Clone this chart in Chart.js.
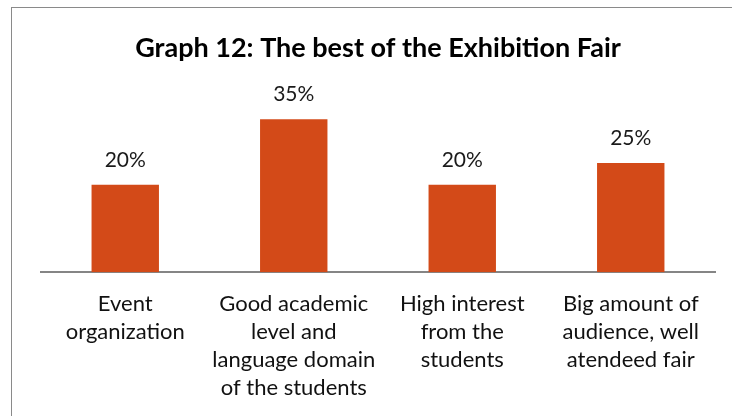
<!DOCTYPE html>
<html>
<head>
<meta charset="utf-8">
<script src="https://cdn.jsdelivr.net/npm/chart.js@4"></script>
<style>
  html, body { margin: 0; padding: 0; background: #fff; overflow: hidden; }
  #wrap { position: relative; width: 732px; height: 416px; }
  #frame { position: absolute; left: 11px; top: 7px; width: 800px; height: 500px; border: 1.5px solid #8a8a8a; box-sizing: border-box; }
  #chart { position: absolute; left: 0; top: 0; }
</style>
</head>
<body>
<div id="wrap">
  <div id="frame"></div>
  <canvas id="chart" width="732" height="416"></canvas>
</div>
<script>
let categories = [
    ['Event', 'organization'],
    ['Good academic', 'level and', 'language domain', 'of the students'],
    ['High interest', 'from the', 'students'],
    ['Big amount of', 'audience, well', 'atendeed fair']
];
let percents = [20, 35, 20, 25];
let titleText = 'Graph 12: The best of the Exhibition Fair';

let fontFamily = 'Lato, "Open Sans", sans-serif';

// writes the percentage above each bar
let valueLabels = {
    id: 'valueLabels',
    afterDatasetsDraw(chart) {
        let ctx = chart.ctx;
        let meta = chart.getDatasetMeta(0);
        ctx.save();
        ctx.font = '21px ' + fontFamily;
        ctx.fillStyle = '#1a1a1a';
        ctx.textAlign = 'center';
        ctx.textBaseline = 'middle';
        meta.data.forEach((bar, i) => {
            ctx.fillText(percents[i] + '%', bar.x, bar.y - 25);
        });
        ctx.restore();
    }
};

let chart = new Chart(document.getElementById('chart'), {
    type: 'bar',
    data: {
        labels: categories,
        datasets: [{
            data: percents,
            backgroundColor: '#d34a18',
            borderWidth: 0,
            barPercentage: 0.4,
            categoryPercentage: 1
        }]
    },
    options: {
        responsive: false,
        animation: false,
        layout: {
            padding: { left: 41, right: 17, top: 30, bottom: -4 }
        },
        plugins: {
            legend: { display: false },
            tooltip: { enabled: false },
            title: {
                display: true,
                text: titleText,
                color: '#000',
                font: { family: fontFamily, size: 27, weight: 'bold', lineHeight: 1.2 },
                padding: { top: 2, bottom: 33 }
            }
        },
        scales: {
            x: {
                grid: { display: false, drawTicks: false },
                border: { display: true, color: '#858585', width: 2 },
                ticks: {
                    color: '#111',
                    padding: 18,
                    maxRotation: 0,
                    autoSkip: false,
                    font: { family: fontFamily, size: 22, lineHeight: 1.27 }
                }
            },
            y: {
                display: false,
                min: 0,
                max: 40
            }
        }
    },
    plugins: [valueLabels]
});
</script>
</body>
</html>
